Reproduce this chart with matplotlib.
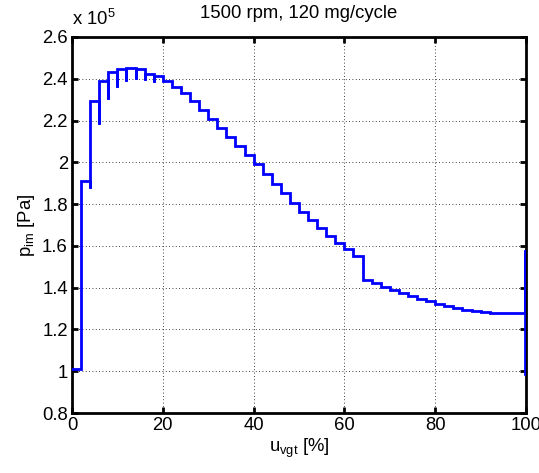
import matplotlib
matplotlib.use("Agg")
import matplotlib.pyplot as plt
from matplotlib.ticker import FormatStrFormatter, MultipleLocator

plt.rcParams["font.family"] = ["Liberation Sans", "DejaVu Sans"]
plt.rcParams["mathtext.fontset"] = "custom"
plt.rcParams["mathtext.rm"] = "Liberation Sans"
plt.rcParams["mathtext.it"] = "Liberation Sans"

# u_vgt step edges [%]
u_edges = list(range(0, 101, 2))

# p_im level on each step [x 1e5 Pa]
p_levels = [
    1.010, 1.910, 2.294, 2.390, 2.432, 2.445, 2.452, 2.446, 2.425, 2.412,
    2.391, 2.363, 2.331, 2.295, 2.251, 2.206, 2.164, 2.121, 2.080, 2.035,
    1.991, 1.942, 1.896, 1.851, 1.805, 1.763, 1.723, 1.685, 1.648, 1.615,
    1.583, 1.552, 1.435, 1.420, 1.403, 1.389, 1.375, 1.360, 1.348, 1.335,
    1.324, 1.314, 1.303, 1.295, 1.288, 1.283, 1.280, 1.279, 1.279, 1.280,
]

# transient dips at the start of a step (step index -> min value)
dip_steps = [2, 3, 4, 5, 6, 7, 8, 9]
dip_values = [1.875, 2.184, 2.304, 2.360, 2.387, 2.398, 2.395, 2.386]

# last samples at u = 100 %
end_values = [1.580, 0.985]

dips = dict(zip(dip_steps, dip_values))
xs, ys = [], []
for i, lev in enumerate(p_levels):
    x0, x1 = u_edges[i], u_edges[i + 1]
    if i in dips:
        xs.append(x0)
        ys.append(dips[i])
    xs += [x0, x1]
    ys += [lev, lev]
for v in end_values:
    xs.append(u_edges[-1] - 0.25)
    ys.append(v)
xs[-3] = u_edges[-1] - 0.25

fig = plt.figure(figsize=(5.39, 4.73), dpi=100)
ax = fig.add_axes([72 / 539, 60 / 473, 454 / 539, 376 / 473])

ax.plot(xs, ys, color="#0000ff", lw=2.0, solid_joinstyle="miter", zorder=3)

ax.set_xlim(0, 100)
ax.set_ylim(0.8, 2.6)
ax.xaxis.set_major_locator(MultipleLocator(20))
ax.yaxis.set_major_locator(MultipleLocator(0.2))
ax.yaxis.set_major_formatter(FormatStrFormatter("%g"))
ax.xaxis.set_major_formatter(FormatStrFormatter("%g"))

ax.grid(True, color="black", linestyle=(0, (1, 3)), linewidth=0.6)
for s in ax.spines.values():
    s.set_linewidth(2.0)
ax.tick_params(direction="in", length=4, width=2, top=True, right=True,
               labelsize=13.3, pad=3)

ax.set_title("1500 rpm, 120 mg/cycle", fontsize=13.3, pad=14)
ax.set_xlabel(r"u$_{\mathrm{vgt}}$ [%]", fontsize=13.3, labelpad=2)
ax.set_ylabel(r"p$_{\mathrm{im}}$ [Pa]", fontsize=13.3, labelpad=4)
ax.text(0, 1.02, r"x 10$^{5}$", transform=ax.transAxes, fontsize=13.3,
        ha="left", va="bottom")

fig.savefig("out.png", dpi=100)
